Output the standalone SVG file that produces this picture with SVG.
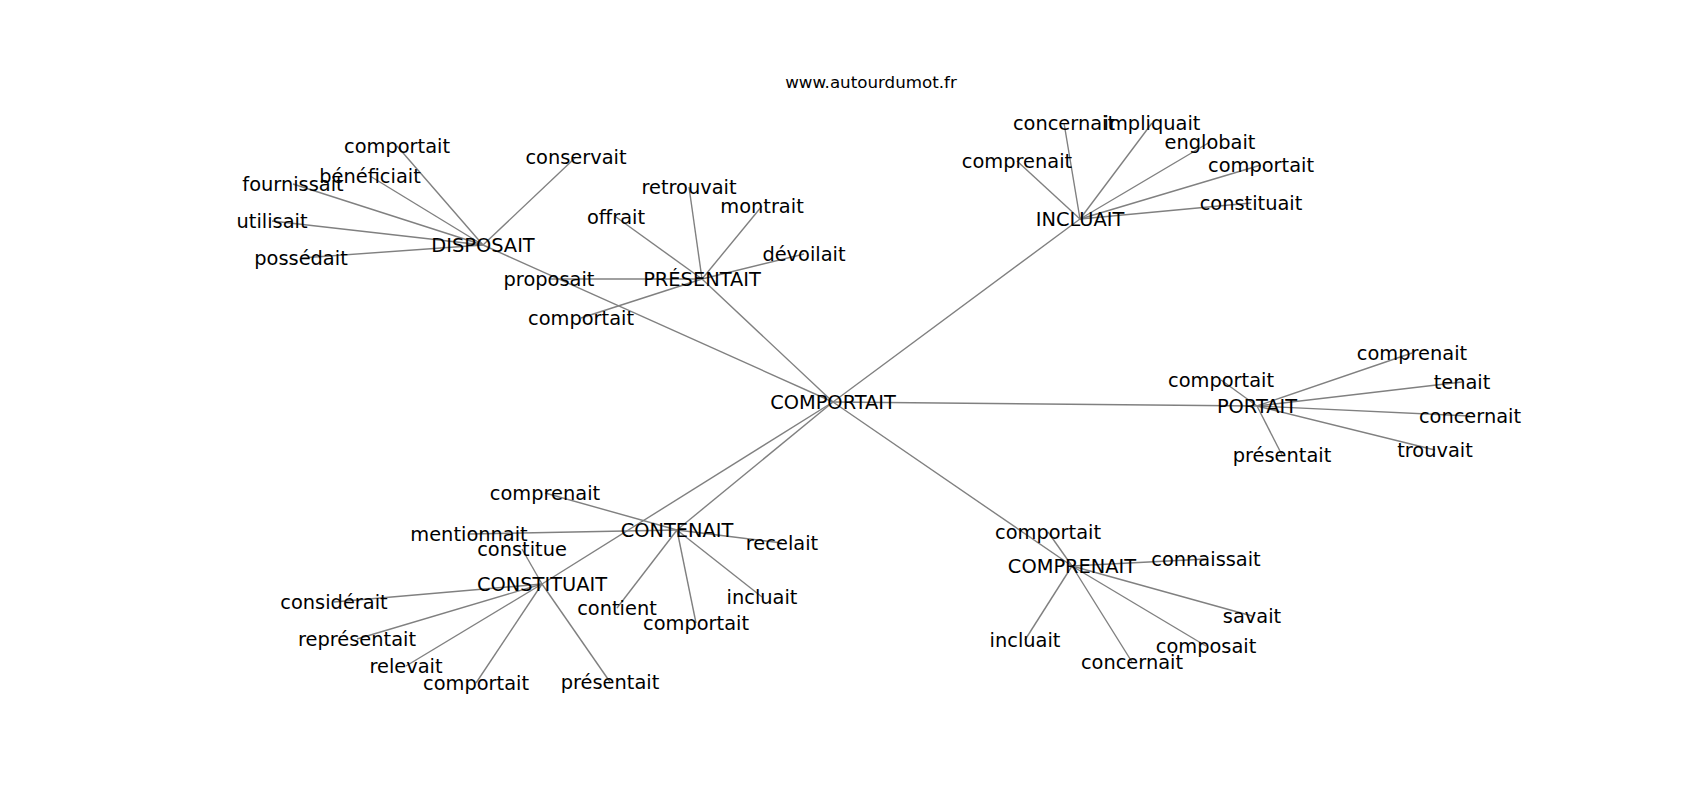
<svg xmlns="http://www.w3.org/2000/svg" width="1700" height="800" viewBox="0 0 1700 800">
<style>
.e line{stroke:#808080;stroke-width:1.4;fill:none}
text{font-family:"DejaVu Sans","Liberation Sans",sans-serif;font-size:19.4px;fill:#000;text-anchor:middle;dominant-baseline:central}
.t{font-size:16.7px}
</style>
<rect width="1700" height="800" fill="#fff"/>
<text class="t" x="871" y="82">www.autourdumot.fr</text>
<g id="connectors" class="e">
<line x1="833" y1="402" x2="483" y2="245"/>
<line x1="833" y1="402" x2="702" y2="279"/>
<line x1="833" y1="402" x2="1080" y2="219"/>
<line x1="833" y1="402" x2="1257" y2="406"/>
<line x1="833" y1="402" x2="677" y2="530"/>
<line x1="833" y1="402" x2="542" y2="584"/>
<line x1="833" y1="402" x2="1072" y2="566"/>
<line x1="483" y1="245" x2="397" y2="146"/>
<line x1="483" y1="245" x2="576" y2="157"/>
<line x1="483" y1="245" x2="370" y2="176"/>
<line x1="483" y1="245" x2="293" y2="184"/>
<line x1="483" y1="245" x2="272" y2="221"/>
<line x1="483" y1="245" x2="301" y2="258"/>
<line x1="702" y1="279" x2="689" y2="187"/>
<line x1="702" y1="279" x2="762" y2="206"/>
<line x1="702" y1="279" x2="616" y2="217"/>
<line x1="702" y1="279" x2="804" y2="254"/>
<line x1="702" y1="279" x2="549" y2="279"/>
<line x1="702" y1="279" x2="581" y2="318"/>
<line x1="1080" y1="219" x2="1064" y2="123"/>
<line x1="1080" y1="219" x2="1152" y2="123"/>
<line x1="1080" y1="219" x2="1210" y2="142"/>
<line x1="1080" y1="219" x2="1017" y2="161"/>
<line x1="1080" y1="219" x2="1261" y2="165"/>
<line x1="1080" y1="219" x2="1251" y2="203"/>
<line x1="1257" y1="406" x2="1412" y2="353"/>
<line x1="1257" y1="406" x2="1462" y2="382"/>
<line x1="1257" y1="406" x2="1221" y2="380"/>
<line x1="1257" y1="406" x2="1470" y2="416"/>
<line x1="1257" y1="406" x2="1282" y2="455"/>
<line x1="1257" y1="406" x2="1435" y2="450"/>
<line x1="677" y1="530" x2="545" y2="493"/>
<line x1="677" y1="530" x2="469" y2="534"/>
<line x1="677" y1="530" x2="782" y2="543"/>
<line x1="677" y1="530" x2="762" y2="597"/>
<line x1="677" y1="530" x2="617" y2="608"/>
<line x1="677" y1="530" x2="696" y2="623"/>
<line x1="542" y1="584" x2="522" y2="549"/>
<line x1="542" y1="584" x2="334" y2="602"/>
<line x1="542" y1="584" x2="357" y2="639"/>
<line x1="542" y1="584" x2="406" y2="666"/>
<line x1="542" y1="584" x2="476" y2="683"/>
<line x1="542" y1="584" x2="610" y2="682"/>
<line x1="1072" y1="566" x2="1048" y2="532"/>
<line x1="1072" y1="566" x2="1206" y2="559"/>
<line x1="1072" y1="566" x2="1252" y2="616"/>
<line x1="1072" y1="566" x2="1206" y2="646"/>
<line x1="1072" y1="566" x2="1025" y2="640"/>
<line x1="1072" y1="566" x2="1132" y2="662"/>
</g>
<g id="n-comportait-center"><text x="833" y="402">COMPORTAIT</text></g>
<g id="n-disposait"><text x="483" y="245">DISPOSAIT</text></g>
<g id="n-disposait-comportait"><text x="397" y="146">comportait</text></g>
<g id="n-conservait"><text x="576" y="157">conservait</text></g>
<g id="n-beneficiait"><text x="370" y="176">bénéficiait</text></g>
<g id="n-fournissait"><text x="293" y="184">fournissait</text></g>
<g id="n-utilisait"><text x="272" y="221">utilisait</text></g>
<g id="n-possedait"><text x="301" y="258">possédait</text></g>
<g id="n-presentait-hub"><text x="702" y="279">PRÉSENTAIT</text></g>
<g id="n-retrouvait"><text x="689" y="187">retrouvait</text></g>
<g id="n-montrait"><text x="762" y="206">montrait</text></g>
<g id="n-offrait"><text x="616" y="217">offrait</text></g>
<g id="n-devoilait"><text x="804" y="254">dévoilait</text></g>
<g id="n-proposait"><text x="549" y="279">proposait</text></g>
<g id="n-presentait-comportait"><text x="581" y="318">comportait</text></g>
<g id="n-incluait-hub"><text x="1080" y="219">INCLUAIT</text></g>
<g id="n-inc-concernait"><text x="1064" y="123">concernait</text></g>
<g id="n-impliquait"><text x="1152" y="123">impliquait</text></g>
<g id="n-englobait"><text x="1210" y="142">englobait</text></g>
<g id="n-inc-comprenait"><text x="1017" y="161">comprenait</text></g>
<g id="n-inc-comportait"><text x="1261" y="165">comportait</text></g>
<g id="n-constituait"><text x="1251" y="203">constituait</text></g>
<g id="n-portait"><text x="1257" y="406">PORTAIT</text></g>
<g id="n-por-comprenait"><text x="1412" y="353">comprenait</text></g>
<g id="n-tenait"><text x="1462" y="382">tenait</text></g>
<g id="n-por-comportait"><text x="1221" y="380">comportait</text></g>
<g id="n-por-concernait"><text x="1470" y="416">concernait</text></g>
<g id="n-por-presentait"><text x="1282" y="455">présentait</text></g>
<g id="n-trouvait"><text x="1435" y="450">trouvait</text></g>
<g id="n-contenait"><text x="677" y="530">CONTENAIT</text></g>
<g id="n-con-comprenait"><text x="545" y="493">comprenait</text></g>
<g id="n-mentionnait"><text x="469" y="534">mentionnait</text></g>
<g id="n-recelait"><text x="782" y="543">recelait</text></g>
<g id="n-con-incluait"><text x="762" y="597">incluait</text></g>
<g id="n-contient"><text x="617" y="608">contient</text></g>
<g id="n-con-comportait"><text x="696" y="623">comportait</text></g>
<g id="n-constituait-hub"><text x="542" y="584">CONSTITUAIT</text></g>
<g id="n-constitue"><text x="522" y="549">constitue</text></g>
<g id="n-considerait"><text x="334" y="602">considérait</text></g>
<g id="n-representait"><text x="357" y="639">représentait</text></g>
<g id="n-relevait"><text x="406" y="666">relevait</text></g>
<g id="n-cst-comportait"><text x="476" y="683">comportait</text></g>
<g id="n-cst-presentait"><text x="610" y="682">présentait</text></g>
<g id="n-comprenait-hub"><text x="1072" y="566">COMPRENAIT</text></g>
<g id="n-cpr-comportait"><text x="1048" y="532">comportait</text></g>
<g id="n-connaissait"><text x="1206" y="559">connaissait</text></g>
<g id="n-savait"><text x="1252" y="616">savait</text></g>
<g id="n-composait"><text x="1206" y="646">composait</text></g>
<g id="n-cpr-incluait"><text x="1025" y="640">incluait</text></g>
<g id="n-cpr-concernait"><text x="1132" y="662">concernait</text></g>
</svg>
